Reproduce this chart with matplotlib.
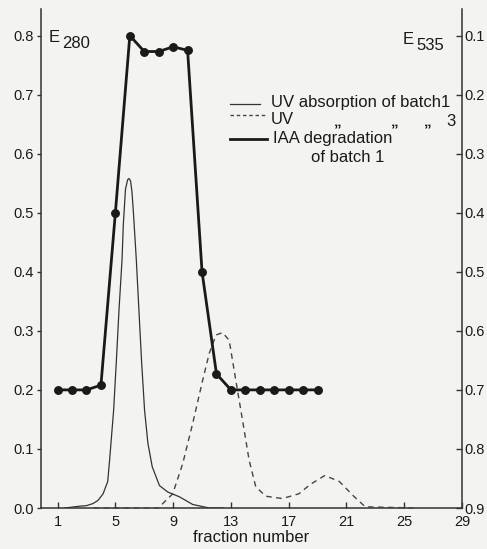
import matplotlib
matplotlib.use("Agg")
import matplotlib.pyplot as plt
from matplotlib.lines import Line2D

plt.rcParams['font.family'] = ['Liberation Sans', 'DejaVu Sans']

# ---- data ----
# IAA degradation of batch 1 (E535, right axis, inverted)
iaa_fraction = [1, 2, 3, 4, 5, 6, 7, 8, 9, 10, 11, 12, 13, 14, 15, 16, 17, 18, 19]
iaa_e535 = [0.70, 0.70, 0.70, 0.692, 0.40, 0.10, 0.127, 0.127, 0.119, 0.125,
            0.50, 0.673, 0.70, 0.70, 0.70, 0.70, 0.70, 0.70, 0.70]

# UV absorption of batch 1 (E280, left axis)
uv1_fraction = [1.5, 2.5, 3.0, 3.45, 3.8, 4.15, 4.47, 4.6, 4.88, 5.07, 5.25, 5.46,
                5.55, 5.7, 5.85, 5.94, 6.05, 6.15, 6.25, 6.35, 6.45, 6.63, 6.81,
                7.02, 7.25, 7.55, 8.05, 8.63, 9.43, 10.35, 11.5, 12.5]
uv1_e280 = [0.0, 0.003, 0.004, 0.0075, 0.013, 0.024, 0.045, 0.081, 0.166, 0.25,
            0.335, 0.42, 0.48, 0.54, 0.556, 0.558, 0.554, 0.535, 0.5, 0.46, 0.42,
            0.335, 0.25, 0.166, 0.11, 0.07, 0.038, 0.027, 0.019, 0.006, 0.0, 0.0]

# UV absorption of batch 3 (E280, left axis)
uv3_fraction = [3.5, 8.0, 8.28, 8.97, 9.66, 10.35, 11.04, 11.5, 11.97, 12.42,
                12.88, 13.34, 13.8, 14.26, 14.72, 15.41, 16.56, 17.7, 18.5,
                19.5, 20.5, 21.5, 22.3, 25.8]
uv3_e280 = [0.0, 0.0, 0.0075, 0.024, 0.075, 0.143, 0.216, 0.262, 0.293, 0.297,
            0.284, 0.216, 0.149, 0.081, 0.036, 0.02, 0.016, 0.024, 0.04,
            0.055, 0.045, 0.02, 0.002, 0.0]

x_ticks = [1, 5, 9, 13, 17, 21, 25, 29]
left_ticks = [0.0, 0.1, 0.2, 0.3, 0.4, 0.5, 0.6, 0.7, 0.8]
right_ticks = [0.1, 0.2, 0.3, 0.4, 0.5, 0.6, 0.7, 0.8, 0.9]

# ---- figure ----
W, H = 487, 549
fig = plt.figure(figsize=(W / 100, H / 100), dpi=100)
bg = '#f3f3f1'
fig.patch.set_facecolor(bg)

ax = fig.add_axes([41 / W, 1 - 508 / H, (462 - 41) / W, (508 - 9) / H])
ax.set_facecolor(bg)
ax.set_xlim(-0.15, 29)
ax.set_ylim(0, 0.845)

ax2 = ax.twinx()
ax2.set_ylim(0.9, 0.9 - 0.845)

ink = '#1a1a1a'
ax.plot(uv1_fraction, uv1_e280, color='#333333', lw=0.9, zorder=3)
ax.plot(uv3_fraction, uv3_e280, color='#444444', lw=1.0, ls=(0, (4, 3.2)), zorder=3,
        clip_on=False)
ax2.plot(iaa_fraction, iaa_e535, color=ink, lw=2.0, marker='o', ms=5.4, zorder=4)

for a in (ax, ax2):
    a.spines['top'].set_visible(False)
    for s in a.spines.values():
        s.set_color('#333333')
        s.set_linewidth(1.1)
ax.spines['right'].set_visible(False)
ax2.spines['left'].set_visible(False)
ax2.spines['bottom'].set_visible(False)

ax.set_xticks(x_ticks)
ax.set_xticklabels([str(v) for v in x_ticks])
ax.set_yticks(left_ticks)
ax.set_yticklabels([f"{v:.1f}" for v in left_ticks])
ax2.set_yticks(right_ticks)
ax2.set_yticklabels([f"{v:.1f}" for v in right_ticks])

ax.tick_params(axis='x', direction='in', length=4, width=1, pad=5,
               labelsize=10.5, colors='#333333', labelcolor=ink)
ax.tick_params(axis='y', direction='out', length=3, width=1, pad=2,
               labelsize=10.5, colors='#333333', labelcolor=ink)
ax2.tick_params(axis='y', direction='in', length=4, width=1, pad=2,
                labelsize=10.5, colors='#333333', labelcolor=ink)

ax.set_xlabel('fraction number', fontsize=12, color=ink, labelpad=1)


def fp(px, py):
    return (px / W, 1 - py / H)


def ftext(px, py, s, **kw):
    kw.setdefault('fontsize', 12)
    kw.setdefault('color', ink)
    kw.setdefault('va', 'center')
    kw.setdefault('ha', 'left')
    fig.text(*fp(px, py), s, **kw)


# axis titles
ftext(49, 37, 'E', fontsize=12)
ftext(62, 43, '280', fontsize=12)
ftext(403, 40, 'E', fontsize=12)
ftext(416, 46, '535', fontsize=12)

# legend (manual)
fig.add_artist(Line2D([230 / W, 260 / W], [fp(0, 104)[1]] * 2, color='#333333', lw=0.9))
fig.add_artist(Line2D([230 / W, 265 / W], [fp(0, 115)[1]] * 2, color='#444444', lw=1.0,
                      ls=(0, (2.5, 2))))
fig.add_artist(Line2D([230 / W, 267 / W], [fp(0, 139)[1]] * 2, color=ink, lw=2.0))

ftext(271, 102, 'UV absorption of batch1')
ftext(271, 119, 'UV')
for dx in (334, 391, 424):
    ftext(dx, 126, '„', fontsize=11, fontweight='bold', va='baseline')
ftext(446, 121, '3')
ftext(273, 139, 'IAA degradation')
ftext(311, 158, 'of batch 1')

fig.savefig('out.png', dpi=100, facecolor=bg)
